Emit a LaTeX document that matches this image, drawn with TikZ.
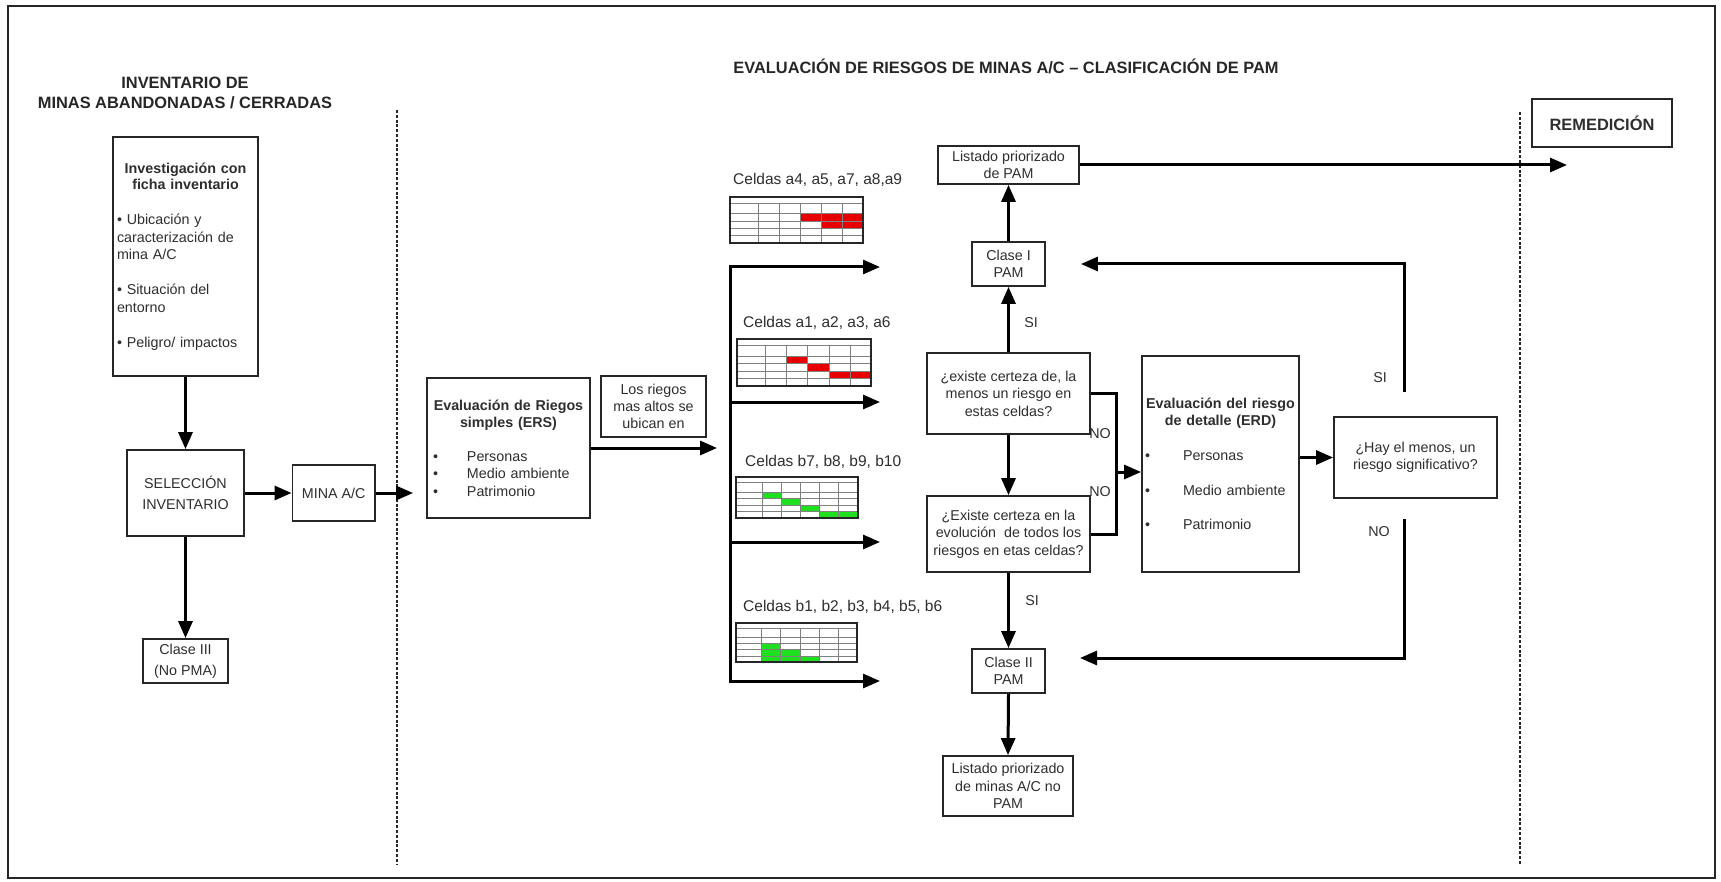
\documentclass[tikz,border=0pt]{standalone}
\usepackage{fontspec}
\setmainfont{Liberation Sans}
\usetikzlibrary{arrows.meta}
\definecolor{ink}{HTML}{262626}
\definecolor{txt}{HTML}{2E2E2E}
\definecolor{cellred}{HTML}{E60000}
\definecolor{cellgreen}{HTML}{1EE01E}
\newcommand\bodyfont{\fontsize{14.3}{17.5}\selectfont}
\newcommand\headfont{\fontsize{16.4}{20}\selectfont\bfseries}
\newcommand\bul[1]{\makebox[#1][l]{•}}
% small risk matrix: #1,#2 top-left corner, #3 width, #4 height,
% #5 list of filled cells col/row/span, #6 fill colour
\newcommand\celltab[6]{%
  \begin{scope}[shift={(#1,#2)}, x={#3/6.35*1pt}, y={-#4/6.3*1pt}]
    \foreach \tc/\tr/\tw in {#5}{\fill[#6] (0.35+\tc,1.3+\tr) rectangle (0.35+\tc+\tw,2.3+\tr);}
    \draw[black!50, line width=0.6pt] (0,0.8) -- (6.35,0.8) (0,2.3) -- (6.35,2.3)
      (0,3.3) -- (6.35,3.3) (0,4.3) -- (6.35,4.3) (0,5.3) -- (6.35,5.3);
    \foreach \tk in {1.35,2.35,3.35,4.35,5.35}{\draw[black!50, line width=0.6pt] (\tk,0.8) -- (\tk,6.3);}
    \draw[ink, line width=1.3pt] (0,0) rectangle (6.35,6.3);
  \end{scope}}

\begin{document}
\begin{tikzpicture}[x=1pt,y=-1pt,
  box/.style={draw=ink, line width=1.8pt, fill=white, inner sep=0pt, align=center, font=\bodyfont, text=txt},
  conn/.style={draw=black, line width=3pt},
  arr/.style={conn, -{Triangle[length=17pt,width=14pt]}},
  sep/.style={draw=ink, line width=2.6pt, dash pattern=on 3pt off 1.8pt},
  lbl/.style={font=\bodyfont, text=txt, inner sep=0pt},
  head/.style={font=\headfont, text=ink, align=center, inner sep=0pt},
  celllbl/.style={font=\fontsize{15.5}{18}\selectfont, text=txt, inner sep=0pt, anchor=west}
]
\useasboundingbox (0,0) rectangle (1721,882);
\draw[ink, line width=2pt] (8,6) rectangle (1715,878);

% section titles and separators
\node[head] (tinv) at (185,93) {INVENTARIO DE\\MINAS ABANDONADAS / CERRADAS};
\node[head] (teval) at (1006,66) {EVALUACIÓN DE RIESGOS DE MINAS A/C – CLASIFICACIÓN DE PAM};
\draw[sep] (397,110) -- (397,864);
\draw[sep] (1520,112) -- (1520,864);
\node[box, font=\headfont, minimum width=140pt, minimum height=48pt] (rem) at (1602,123) {REMEDICIÓN};

% inventory column
\node[box, minimum width=145pt, minimum height=239pt, text width=137pt, align=left] (inv) at (185.5,256.5)
  {{\centering\bfseries\fontsize{14.3}{16}\selectfont Investigación con\\ficha inventario\par}\vspace{18pt}
   • Ubicación y\\caracterización de\\mina A/C\par\vspace{17.5pt}
   • Situación del\\entorno\par\vspace{17.5pt}
   • Peligro/ impactos};
\node[box, font=\fontsize{14.3}{20.3}\selectfont, minimum width=117pt, minimum height=86pt] (sel) at (185.5,493) {SELECCIÓN\\INVENTARIO};
\node[box, font=\fontsize{14.3}{21}\selectfont, minimum width=85pt, minimum height=44pt] (cl3) at (185.5,661) {Clase III\\(No PMA)};
\node[box, minimum width=82.5pt, minimum height=56pt] (mina) at (333.75,493) {MINA A/C};

\draw[arr] (inv.south) -- (sel.north);
\draw[arr] (sel.south) -- (cl3.north);
\draw[arr] (sel.east) -- (mina.west);

% simple risk evaluation
\node[box, minimum width=163pt, minimum height=140pt, text width=151pt, align=left] (ers) at (508.5,448)
  {{\centering\bfseries Evaluación de Riegos\\simples (ERS)\par}\vspace{16pt}
   \bul{34pt}Personas\\\bul{34pt}Medio ambiente\\\bul{34pt}Patrimonio};
\node[box, font=\fontsize{14.3}{17}\selectfont, minimum width=105pt, minimum height=61pt] (los) at (653.5,406.5) {Los riegos\\mas altos se\\ubican en};
\draw[arr, shorten >=13pt] (mina.east) -- (mina.east -| ers.west);

\coordinate (busin) at (717,448);
\coordinate (bus1) at (730,267);
\coordinate (bus4) at (730,681);
\coordinate (tip1) at (880,267);
\coordinate (tip2) at (880,402);
\coordinate (tip3) at (880,542);
\coordinate (tip4) at (880,681);
\draw[arr] (ers.east) -- (ers.east -| busin);
\draw[arr] (bus4) -- (bus1) -- (tip1);
\draw[arr] (bus1) -- (bus4) -- (tip4);
\draw[arr] (bus1 |- tip2) -- (tip2);
\draw[arr] (bus1 |- tip3) -- (tip3);

% cell groups
\node[celllbl] (ca) at (733,180) {Celdas a4, a5, a7, a8,a9};
\celltab{730}{197}{133}{46}{3/1/3, 4/2/2}{cellred}
\node[celllbl] (cb) at (743,323) {Celdas a1, a2, a3, a6};
\celltab{737}{339}{134}{47}{2/1/1, 3/2/1, 4/3/2}{cellred}
\node[celllbl] (cc) at (745,462) {Celdas b7, b8, b9, b10};
\celltab{736}{477}{122}{41}{1/1/1, 2/2/1, 3/3/1, 4/4/2}{cellgreen}
\node[celllbl] (cd) at (743,607) {Celdas b1, b2, b3, b4, b5, b6};
\celltab{736}{623}{121}{39}{1/2/1, 1/3/2, 1/4/3}{cellgreen}

% classification
\node[box, minimum width=141pt, minimum height=38pt] (lpam) at (1008.5,165) {Listado priorizado\\de PAM};
\node[box, minimum width=73pt, minimum height=44pt] (cl1) at (1008.5,264) {Clase I\\PAM};
\node[box, minimum width=163pt, minimum height=81pt] (q1) at (1008.5,393.5) {¿existe certeza de, la\\menos un riesgo en\\estas celdas?};
\node[box, minimum width=163pt, minimum height=76pt] (q2) at (1008.5,534) {¿Existe certeza en la\\evolución \ de todos los\\riesgos en etas celdas?};
\node[box, minimum width=73pt, minimum height=44pt] (cl2) at (1008.5,671) {Clase II\\PAM};
\node[box, minimum width=130pt, minimum height=60pt] (lfin) at (1008,786) {Listado priorizado\\de minas A/C no\\PAM};
\node[box, minimum width=157pt, minimum height=216pt, text width=151pt, align=left] (erd) at (1220.5,464)
  {{\centering\bfseries Evaluación del riesgo\\de detalle (ERD)\par}\vspace{17.5pt}
   \bul{38pt}Personas\\[17pt]\bul{38pt}Medio ambiente\\[17pt]\bul{38pt}Patrimonio\\[20pt]};
\node[box, minimum width=163pt, minimum height=81pt] (hay) at (1415.5,457.5) {¿Hay el menos, un\\riesgo significativo?};

\draw[arr] (cl1.north) -- (lpam.south);
\coordinate (remin) at (1567,165);
\draw[arr] (lpam.east) -- (remin);
\draw[arr] (q1.north) -- (cl1.south);
\node[lbl] (si1) at (1031,323) {SI};
\draw[arr] (q1.south) -- (q2.north);
\coordinate (nox) at (1116,472);
\draw[conn] (q1.east) -| (nox) |- (q2.east);
\draw[arr] (nox) -- (nox -| erd.west);
\node[lbl] (no1) at (1100,434) {NO};
\node[lbl] (no2) at (1100,492) {NO};
\draw[arr] (q2.south) -- (cl2.north);
\node[lbl] (si2) at (1032,601) {SI};
\draw[arr] (cl2.south) -- (lfin.north);

\draw[arr] (erd.east |- hay.west) -- (hay.west);
\coordinate (siTop) at (1404,392);
\coordinate (noTop) at (1404,519);
\coordinate (cl2in) at (1080,658);
\draw[arr, shorten >=35pt] (siTop) |- (cl1.east);
\draw[arr] (noTop) |- (cl2in);
\node[lbl] (si3) at (1380,378) {SI};
\node[lbl] (no3) at (1379,532) {NO};
\end{tikzpicture}
\end{document}
